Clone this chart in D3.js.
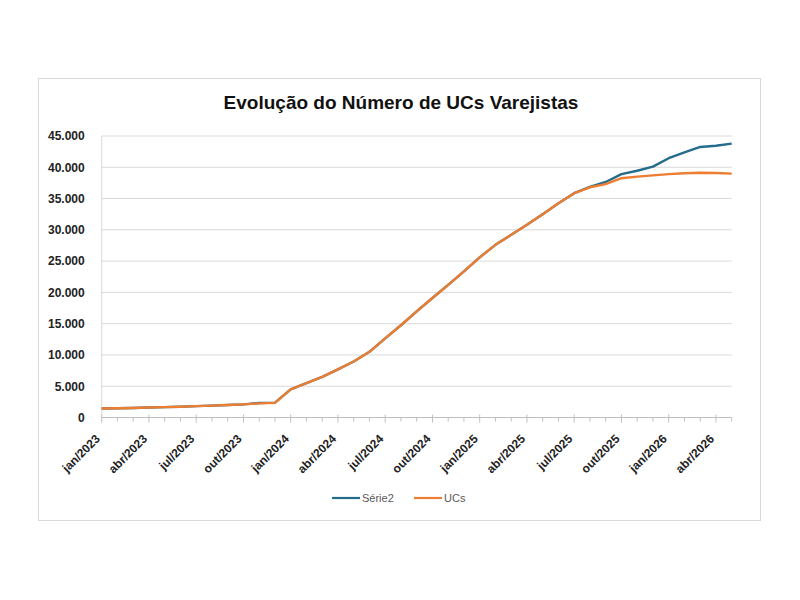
<!DOCTYPE html>
<meta charset="utf-8">
<script src="https://cdn.jsdelivr.net/npm/d3@7"></script>
<style>
  body { margin: 0; background: #fff; }
  text { font-family: "Liberation Sans", Arial, sans-serif; }
</style>
<svg></svg>
<script>
    // meses jan/2023 .. mai/2026
    var mesesNomes = ['jan', 'fev', 'mar', 'abr', 'mai', 'jun', 'jul', 'ago', 'set', 'out', 'nov', 'dez'];
    var meses = d3.range(41).map(i => mesesNomes[i % 12] + '/' + (2023 + Math.floor(i / 12)));
    var ucs = [1450, 1480, 1520, 1600, 1660, 1730, 1820, 1900, 2000, 2100, 2250, 2330,
        4500, 5500, 6500, 7700, 8950, 10500, 12650, 14750, 16950,
        19100, 21200, 23350, 25600, 27600, 29200, 30800, 32500, 34250,
        35850, 36800, 37300, 38250, 38500, 38700, 38900, 39050, 39120, 39080, 38980];
    var serie2 = [1450, 1480, 1520, 1600, 1660, 1730, 1820, 1900, 2000, 2100, 2320, 2380,
        4500, 5500, 6500, 7700, 8950, 10500, 12650, 14750, 16950,
        19100, 21200, 23350, 25600, 27600, 29200, 30800, 32500, 34250,
        35850, 36850, 37650, 38900, 39450, 40100, 41450, 42400, 43250, 43450, 43780];
    var yTicks = d3.range(0, 45001, 5000);

    var svg = d3.select('svg').attr('width', 800).attr('height', 600);
    var pLeft = 101.7, pRight = 731.7, pTop = 136, pBottom = 417.5;

    var x = d3.scaleLinear().domain([0, meses.length - 1]).range([pLeft, pRight]);
    var y = d3.scaleLinear().domain([0, 45000]).range([pBottom, pTop]);
    var fmt = d3.formatLocale({decimal: ',', thousands: '.', grouping: [3], currency: ['R$', '']}).format(',');

    svg.append('rect')
        .attr('x', 38.5).attr('y', 78.5).attr('width', 722).attr('height', 442)
        .attr('fill', '#fff').attr('stroke', '#d9d9d9');

    svg.append('text')
        .attr('x', 401).attr('y', 109)
        .attr('text-anchor', 'middle')
        .attr('font-size', 19).attr('font-weight', 'bold').attr('fill', '#111')
        .text('Evolução do Número de UCs Varejistas');

    // grade
    svg.append('g').selectAll('line').data(yTicks.slice(1)).enter().append('line')
        .attr('x1', pLeft).attr('x2', pRight)
        .attr('y1', d => y(d)).attr('y2', d => y(d))
        .attr('stroke', '#d9d9d9').attr('stroke-width', 1);

    svg.append('line')
        .attr('x1', pLeft).attr('x2', pLeft).attr('y1', pTop).attr('y2', pBottom)
        .attr('stroke', '#d9d9d9');

    var yAxis = d3.axisLeft(y).tickValues(yTicks).tickSize(0).tickPadding(17).tickFormat(d => d === 0 ? '0' : fmt(d));
    svg.append('g')
        .attr('transform', 'translate(' + pLeft + ',0)')
        .call(yAxis)
        .call(g => g.select('.domain').remove())
        .selectAll('text')
        .attr('font-size', 12).attr('font-weight', 'bold').attr('fill', '#222')
        .style('font-family', '"Liberation Sans", Arial, sans-serif');

    // eixo x
    var xg = svg.append('g');
    xg.append('line')
        .attr('x1', pLeft).attr('x2', pRight).attr('y1', pBottom).attr('y2', pBottom)
        .attr('stroke', '#bfbfbf');
    xg.selectAll('line.tick').data(d3.range(meses.length)).enter().append('line')
        .attr('class', 'tick')
        .attr('x1', d => x(d)).attr('x2', d => x(d))
        .attr('y1', d => d % 3 === 0 ? pBottom - 3 : pBottom)
        .attr('y2', d => d % 3 === 0 ? pBottom + 5 : pBottom + 4)
        .attr('stroke', '#bfbfbf');
    xg.selectAll('text').data(d3.range(0, meses.length, 3)).enter().append('text')
        .attr('transform', d => 'translate(' + (x(d) - 4) + ',' + (pBottom + 19) + ') rotate(-45)')
        .attr('text-anchor', 'end')
        .attr('dy', '0.35em')
        .attr('font-size', 12).attr('font-weight', 'bold').attr('fill', '#222')
        .text(d => meses[d]);

    var line = d3.line().x((d, i) => x(i)).y(d => y(d));
    svg.append('path').datum(serie2)
        .attr('d', line).attr('fill', 'none')
        .attr('stroke', '#256c8c').attr('stroke-width', 2.4).attr('stroke-linejoin', 'round');
    svg.append('path').datum(ucs)
        .attr('d', line).attr('fill', 'none')
        .attr('stroke', '#ed7d31').attr('stroke-width', 2.4).attr('stroke-linejoin', 'round');

    // legenda
    var legenda = [{nome: 'Série2', cor: '#256c8c', x: 332}, {nome: 'UCs', cor: '#ed7d31', x: 414}];
    var lg = svg.append('g').selectAll('g').data(legenda).enter().append('g')
        .attr('transform', d => 'translate(' + d.x + ',498)');
    lg.append('line').attr('x1', 0).attr('x2', 28).attr('stroke', d => d.cor).attr('stroke-width', 2.2);
    lg.append('text').attr('x', 30).attr('dy', '0.35em')
        .attr('font-size', 11).attr('fill', '#595959')
        .text(d => d.nome);
</script>
